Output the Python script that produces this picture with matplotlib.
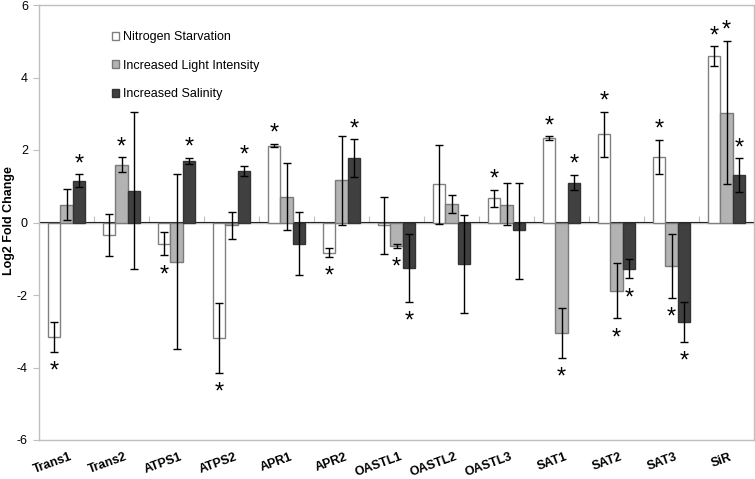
import matplotlib
matplotlib.use("Agg")
import matplotlib.pyplot as plt
import matplotlib.transforms as mtransforms
import numpy as np

plt.rcParams['font.family'] = ['Liberation Sans', 'DejaVu Sans']

genes = ['Trans1', 'Trans2', 'ATPS1', 'ATPS2', 'APR1', 'APR2', 'OASTL1',
         'OASTL2', 'OASTL3', 'SAT1', 'SAT2', 'SAT3', 'SiR']
series_names = ['Nitrogen Starvation', 'Increased Light Intensity', 'Increased Salinity']

nitro = [-3.16, -0.35, -0.58, -3.18, 2.12, -0.83, -0.08, 1.07, 0.67, 2.33, 2.43, 1.81, 4.60]
nitro_lo = [-3.57, -0.92, -0.90, -4.15, 2.07, -0.94, -0.86, -0.04, 0.43, 2.28, 1.80, 1.35, 4.32]
nitro_hi = [-2.75, 0.23, -0.25, -2.22, 2.17, -0.71, 0.69, 2.15, 0.91, 2.38, 3.06, 2.28, 4.86]

light = [0.49, 1.60, -1.08, -0.08, 0.71, 1.17, -0.66, 0.51, 0.49, -3.04, -1.89, -1.20, 3.03]
light_lo = [0.07, 1.40, -3.49, -0.45, -0.22, -0.06, -0.70, 0.26, -0.07, -3.73, -2.64, -2.07, 1.07]
light_hi = [0.92, 1.80, 1.33, 0.28, 1.64, 2.39, -0.59, 0.77, 1.08, -2.37, -1.13, -0.32, 5.01]

salt = [1.15, 0.88, 1.70, 1.43, -0.60, 1.79, -1.26, -1.14, -0.22, 1.10, -1.27, -2.74, 1.31]
salt_lo = [0.97, -1.29, 1.62, 1.28, -1.45, 1.26, -2.19, -2.49, -1.56, 0.90, -1.54, -3.29, 0.83]
salt_hi = [1.33, 3.04, 1.78, 1.57, 0.30, 2.29, -0.32, 0.21, 1.10, 1.31, -1.00, -2.20, 1.77]

# significance markers: 'u' = above error bar, 'd' = below, '' = none
nitro_sig = ['d', '', 'd', 'd', 'u', 'd', '', '', 'u', 'u', 'u', 'u', 'u']
light_sig = ['', 'u', '', '', '', '', 'd', '', '', 'd', 'd', 'd', 'u']
salt_sig = ['u', '', 'u', 'u', '', 'u', 'd', '', '', 'u', 'd', 'd', 'u']

yticks = [-6, -4, -2, 0, 2, 4, 6]

fills = ['#ffffff', '#b3b3b3', '#404040']
edges = ['#808080', '#7a7a7a', '#333333']
grid_col = '#bfbfbf'

fig = plt.figure(figsize=(7.55, 4.79), dpi=100)
ax = fig.add_axes([39 / 755, 1 - 440 / 479, 715 / 755, 435 / 479])

x = np.arange(len(genes)) + 0.5
w = 0.224
data = [(nitro, nitro_lo, nitro_hi, nitro_sig),
        (light, light_lo, light_hi, light_sig),
        (salt, salt_lo, salt_hi, salt_sig)]

for k, (vals, lo, hi, sig) in enumerate(data):
    vals = np.array(vals); lo = np.array(lo); hi = np.array(hi)
    xs = x + (k - 1) * w
    ax.bar(xs, vals, width=w, color=fills[k], edgecolor=edges[k], linewidth=1.0,
           label=series_names[k], zorder=2)
    yerr = np.vstack([vals - lo, hi - vals])
    ax.errorbar(xs, vals, yerr=yerr, fmt='none', ecolor='black', elinewidth=1.0,
                capsize=3.2, capthick=1.0, zorder=3)
    for xi, l, h, s in zip(xs, lo, hi, sig):
        if s == 'u':
            ax.text(xi, h + 0.28, '*', ha='center', va='center', fontsize=17, zorder=4)
        elif s == 'd':
            ax.text(xi, l - 0.55, '*', ha='center', va='center', fontsize=17, zorder=4)

ax.set_xlim(0, len(genes))
ax.set_ylim(-6, 6)
ax.set_yticks(yticks)
ax.set_yticklabels([str(t) for t in yticks], fontsize=9)
ax.tick_params(axis='y', direction='out', length=4, color=grid_col, pad=4)
ax.set_xticks(x)
ax.set_xticklabels(genes, fontsize=9, fontweight='bold', rotation=20,
                   ha='right', rotation_mode='anchor')
ax.tick_params(axis='x', length=0, pad=8)
offset = mtransforms.ScaledTranslation(3 / 100, 0, fig.dpi_scale_trans)
for lab in ax.get_xticklabels():
    lab.set_transform(lab.get_transform() + offset)

for sp in ax.spines.values():
    sp.set_color(grid_col)
    sp.set_linewidth(1.0)

ax.axhline(0, color=grid_col, linewidth=1.0, zorder=1)
sec = ax.secondary_xaxis(0.5)
sec.set_xticks(np.arange(1, len(genes)))
sec.set_xticklabels([])
sec.tick_params(direction='out', length=4, color=grid_col)
sec.spines['bottom'].set_visible(False)

ax.set_ylabel('Log2 Fold Change', fontsize=9, fontweight='bold')
ax.yaxis.set_label_coords(-0.034, 0.505)

leg = ax.legend(loc='upper left', bbox_to_anchor=(0.102, 0.94), frameon=False,
                fontsize=9, labelspacing=1.32, handlelength=0.6, handleheight=0.6,
                handletextpad=0.25, borderpad=0, borderaxespad=0)

fig.savefig('out.png', dpi=100)
